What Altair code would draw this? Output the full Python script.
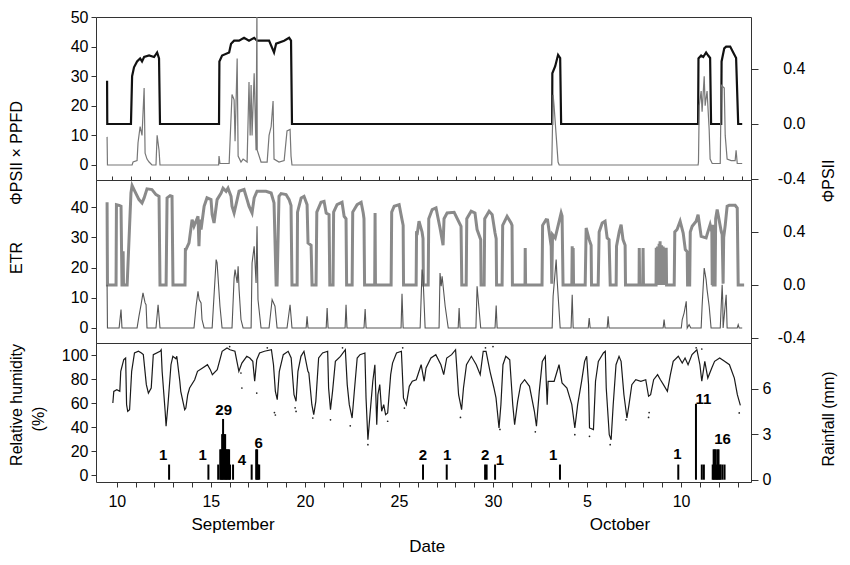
import altair as alt
import pandas as pd

FONT = "Liberation Sans"
X_DOMAIN = [9.16, 43.45]
W, H1, H2, H3 = 655, 163, 163, 139

# ---------------- data (day of September; 31 = 1 October) ----------------
# Panel 1: PhiPSII (right axis) and PhiPSII x PPFD (left axis)
phi_top = [(9.74,0.315),(9.75,0.0),(10.99,0.0),(11.05,0.348),(11.15,0.412),(11.31,0.455),(11.47,0.477),
           (11.57,0.455),(11.68,0.487),(11.94,0.498),(12.20,0.487),(12.36,0.52),(12.46,0.477),(12.51,0.0),
           (15.60,0.0),(15.62,0.455),(15.76,0.498),(16.13,0.52),(16.23,0.584),(16.39,0.606),(16.65,0.606),
           (16.91,0.627),(17.17,0.606),(17.44,0.627),(17.59,0.606),(17.80,0.606),(18.22,0.606),(18.48,0.52),
           (18.59,0.584),(19.01,0.606),(19.27,0.627),(19.37,0.606),(19.42,0.0),(33.04,0.0),(33.05,0.369),
           (33.20,0.42),(33.35,0.503),(33.46,0.48),(33.51,0.0),(40.68,0.0),(40.70,0.477),(40.84,0.498),
           (40.95,0.487),(41.10,0.52),(41.21,0.498),(41.31,0.48),(41.36,0.0),(41.89,0.0),(41.91,0.455),
           (42.05,0.55),(42.15,0.563),(42.36,0.563),(42.52,0.52),(42.67,0.48),(42.78,0.0),(42.99,0.0)]

phippfd_top = [(9.74,9.5),(9.76,0),(11.05,0),(11.10,1),(11.31,1.5),(11.36,7.5),(11.47,13),(11.57,10),(11.68,26),
               (11.73,4),(11.83,2),(11.94,1),(12.09,0),(12.30,0),(12.36,10),(12.46,5),(12.51,0),(15.58,0),
               (15.60,3),(15.65,0.5),(16.13,0.5),(16.28,23.8),(16.39,22),(16.44,8),(16.55,36),(16.60,3),
               (16.75,1),(16.86,2),(17.07,1),(17.17,28),(17.23,10),(17.28,27),(17.33,10),(17.44,31),(17.54,5),
               (17.585,55),(17.60,5),(17.80,1),(18.12,1),(18.22,10),(18.33,13),(18.43,21.6),(18.48,2),
               (18.74,1),(19.01,1.5),(19.16,11.5),(19.32,12),(19.37,3),(19.42,0),(33.02,0),(33.09,23.7),
               (33.14,20),(33.25,10),(33.35,1),(33.41,0),(40.68,0),(40.70,1),(40.74,20),(40.84,25),(40.89,18),
               (41.00,30),(41.05,20),(41.15,25),(41.26,12),(41.31,2),(41.42,0.5),(41.84,0.5),(41.89,27),
               (42.05,26),(42.10,10),(42.20,2),(42.41,1.5),(42.62,1.5),(42.67,5),(42.73,0.5),(42.99,0.5)]

# Panel 2: PhiPSII (right axis) and ETR (left axis)
phi_mid = [(9.74,0.624),(9.76,0),(10.21,0),(10.23,0.606),(10.37,0.601),(10.47,0.594),(10.52,0),(10.56,0),
           (10.58,0.254),(10.60,0),(10.79,0),(10.99,0.694),(11.05,0.75),(11.15,0.72),(11.41,0.644),(11.57,0.619),
           (11.68,0.657),(11.83,0.725),(12.09,0.72),(12.30,0.682),(12.46,0.669),(12.51,0),(12.83,0),(12.88,0.657),
           (13.04,0.674),(13.14,0.669),(13.19,0),(13.82,0),(13.84,0.267),(13.87,0.267),(14.03,0.317),(14.19,0.493),
           (14.29,0.443),(14.50,0.518),(14.55,0.292),(14.60,0.493),(14.66,0.418),(14.82,0.594),(14.97,0.657),
           (15.18,0.644),(15.24,0.531),(15.34,0.468),(15.50,0.644),(15.71,0.694),(15.81,0.73),(15.97,0.707),
           (16.07,0.73),(16.23,0.669),(16.28,0.594),(16.39,0.543),(16.65,0.707),(16.91,0.72),(17.07,0.644),
           (17.17,0.594),(17.33,0.543),(17.44,0.657),(17.59,0.707),(18.06,0.707),(18.33,0.694),(18.48,0.619),
           (18.59,0),(18.64,0),(18.74,0.669),(18.85,0.689),(19.11,0.682),(19.27,0.644),(19.37,0.60),(19.42,0),
           (19.69,0),(19.71,0.55),(19.90,0.657),(20.05,0.669),(20.21,0.606),(20.26,0.317),(20.42,0.30),(20.47,0),
           (20.68,0),(20.72,0.55),(20.94,0.624),(21.10,0.631),(21.21,0.543),(21.36,0.531),(21.40,0),(21.57,0),
           (21.60,0.55),(21.78,0.606),(22.04,0.624),(22.15,0.518),(22.25,0.50),(22.28,0),(22.57,0),(22.60,0.55),
           (22.83,0.606),(23.04,0.624),(23.15,0.543),(23.19,0.50),(23.22,0),(23.75,0),(23.77,0.543),(23.79,0),
           (24.61,0),(24.64,0.55),(24.77,0.594),(25.03,0.606),(25.18,0.493),(25.24,0.45),(25.26,0),(25.92,0),
           (25.94,0.392),(25.98,0.39),(26.07,0.481),(26.23,0.40),(26.28,0.35),(26.30,0),(26.55,0),(26.58,0.50),
           (26.76,0.569),(26.96,0.581),(27.17,0.43),(27.28,0.342),(27.33,0.30),(27.38,0.50),(27.54,0.543),
           (27.91,0.548),(28.27,0.443),(28.31,0),(28.54,0),(28.57,0.50),(28.80,0.556),(29.00,0.543),(29.11,0.418),
           (29.30,0.342),(29.32,0),(29.48,0),(29.51,0.50),(29.74,0.556),(29.90,0.531),(30.05,0.392),(30.11,0.35),
           (30.13,0),(30.42,0),(30.45,0.45),(30.68,0.518),(30.89,0.468),(30.94,0.45),(30.96,0),(31.62,0),
           (31.63,0.279),(31.65,0),(32.51,0),(32.54,0.45),(32.72,0.493),(32.80,0.49),(32.99,0.292),(33.02,0.01),
           (33.06,0.38),(33.20,0.355),(33.51,0.543),(33.56,0.52),(33.61,0),(34.07,0),(34.09,0.292),(34.10,0),
           (34.12,0),(34.14,0.279),(34.16,0),(34.77,0),(34.82,0.43),(34.98,0.342),(35.08,0.30),(35.10,0),
           (35.45,0),(35.50,0.40),(35.66,0.468),(35.81,0.481),(35.92,0.355),(36.02,0.342),(36.08,0),(36.39,0),
           (36.41,0.292),(36.55,0.40),(36.65,0.455),(36.75,0.342),(36.86,0.30),(36.88,0),(37.59,0),(37.60,0.279),
           (37.62,0),(37.78,0),(37.80,0.279),(37.82,0),(38.48,0),(38.49,0.28),(38.52,0),(38.56,0.29),(38.60,0),
           (38.64,0.31),(38.68,0),(38.69,0.33),(38.73,0),(38.77,0.30),(38.81,0),(38.85,0.29),(38.89,0),
           (38.93,0.28),(38.97,0),(39.01,0.28),(39.03,0),(39.43,0),(39.46,0.40),(39.58,0.418),(39.74,0.481),
           (39.90,0.392),(40.01,0.267),(40.11,0.25),(40.13,0),(40.24,0),(40.27,0.40),(40.37,0.443),(40.58,0.481),
           (40.68,0.531),(40.84,0.367),(41.10,0.355),(41.15,0.38),(41.31,0.455),(41.40,0.40),(41.42,0),
           (41.45,0.455),(41.47,0),(41.57,0),(41.60,0.50),(41.68,0.569),(41.89,0.405),(41.94,0.38),(41.99,0.01),
           (42.02,0.36),(42.10,0.45),(42.20,0.594),(42.31,0.601),(42.62,0.601),(42.73,0.58),(42.78,0),(43.09,0)]

etr_mid = [(9.74,14.3),(9.76,0),(10.37,0),(10.47,6.1),(10.52,0),(11.31,0),(11.41,3.9),(11.52,7.7),(11.62,11.6),
           (11.73,8.3),(11.78,7.7),(11.83,0),(12.30,0),(12.41,7.7),(12.51,0),(14.29,0),(14.40,7.2),(14.50,12.1),
           (14.56,9.4),(14.66,8.3),(14.71,2.8),(14.82,0),(15.24,0),(15.45,22.6),(15.50,21.5),(15.65,7.2),
           (15.76,0),(16.28,0),(16.39,16.5),(16.44,19.3),(16.55,14.9),(16.60,20.4),(16.65,12.7),(16.75,2.8),
           (16.86,0),(17.28,0),(17.33,21.5),(17.44,27.0),(17.54,14.9),(17.59,33.6),(17.64,9.4),(17.80,0),
           (18.22,0),(18.38,9.4),(18.53,7.2),(18.64,0),(19.16,0),(19.32,7.7),(19.42,0),(20.16,0),(20.21,3.9),
           (20.26,0),(21.21,0),(21.26,6.6),(21.31,0),(22.20,0),(22.25,7.7),(22.30,0),(23.19,0),(23.25,6.3),
           (23.30,0),(25.13,0),(25.18,11.3),(25.24,0),(26.13,0),(26.23,19.3),(26.28,17.1),(26.39,0),(27.12,0),
           (27.17,18.2),(27.23,13.8),(27.28,17.1),(27.44,7.2),(27.60,0),(28.12,0),(28.17,6.6),(28.22,0),
           (29.05,0),(29.11,13.8),(29.20,7.2),(29.30,0),(30.05,0),(30.11,7.4),(30.16,0),(33.04,0),(33.09,10.5),
           (33.25,22.6),(33.30,16.0),(33.46,0),(34.03,0),(34.09,11.0),(34.14,0),(34.93,0),(34.98,3.3),(35.03,0),
           (35.92,0),(35.97,3.9),(36.02,0),(38.85,0),(38.90,2.8),(38.95,0),(39.80,0),(39.85,2.8),(39.95,5.0),
           (40.06,8.8),(40.11,0),(40.21,1.1),(40.30,0),(40.84,0),(40.89,7.2),(41.00,19.8),(41.10,16.0),
           (41.15,12.7),(41.26,7.2),(41.36,0),(41.84,0),(41.89,7.2),(41.94,14.3),(41.97,9.4),(41.99,0),
           (42.15,11.0),(42.20,0),(42.73,0),(42.78,1.1),(42.83,0),(42.99,0)]

# Panel 3: relative humidity (%) and rainfall (mm)
rh_line = [(9.79,60),(9.84,69.7),(10.00,71.1),(10.16,69.7),(10.21,86.4),(10.37,96.1),(10.47,97.5),(10.52,58.6),
           (10.58,53.1),(10.68,54.4),(10.79,86.4),(10.94,101.7),(11.15,103.1),(11.31,101.7),(11.41,100.3),
           (11.57,75.3),(11.68,68.3),(11.83,72.5),(11.94,100.3),(12.30,103.1),(12.36,104.4),(12.41,86.4),
           (12.57,53.1),(12.62,40.6),(12.72,58.6),(12.88,91.9),(12.98,98.9),(13.14,96.9),(13.19,98.9),
           (13.35,78.1),(13.40,69.7),(13.61,54.4),(13.67,55.8),(13.77,66.9),(13.87,72.5),(14.14,79.4),
           (14.29,86.4),(14.56,89.2),(14.82,91.9),(14.97,87.8),(15.08,83.6),(15.34,87.8),(15.60,103.1),
           (15.86,105.8),(16.02,104.4),(16.28,103.1),(16.49,86.4),(16.65,93.3),(16.91,98.9),(17.07,97.5),
           (17.23,94.7),(17.33,78.1),(17.44,96.1),(17.59,101.7),(17.85,103.1),(18.22,104.4),(18.33,91.9),
           (18.43,69.7),(18.53,62.8),(18.64,86.4),(18.85,100.3),(19.11,103.1),(19.27,97.5),(19.42,66.9),
           (19.53,61.4),(19.63,86.4),(19.79,98.9),(19.95,103.1),(20.16,86.4),(20.21,85.0),(20.37,58.6),
           (20.47,50.3),(20.58,61.4),(20.73,97.5),(20.94,101.7),(21.21,103.1),(21.26,72.5),(21.36,54.4),
           (21.47,69.7),(21.62,94.7),(21.89,98.9),(22.15,104.4),(22.25,75.3),(22.36,58.6),(22.51,47.5),
           (22.62,68.3),(22.78,97.5),(22.93,100.3),(23.19,101.7),(23.25,64.2),(23.35,29.4),(23.46,50.3),
           (23.61,78.1),(23.72,91.9),(23.82,41.9),(23.88,66.9),(23.98,75.3),(24.08,53.1),(24.19,58.6),
           (24.29,50.3),(24.40,51.7),(24.56,83.6),(24.66,93.3),(24.87,101.7),(25.13,103.1),(25.24,64.2),
           (25.39,58.6),(25.55,73.9),(25.71,78.1),(25.92,79.4),(26.18,91.9),(26.34,78.1),(26.44,89.2),
           (26.70,97.5),(26.96,100.3),(27.23,91.9),(27.38,83.6),(27.54,97.5),(27.80,100.3),(28.01,104.4),
           (28.17,66.9),(28.33,54.4),(28.43,72.5),(28.59,91.9),(28.85,98.9),(29.11,91.9),(29.32,83.6),
           (29.48,103.1),(29.63,103.1),(29.84,86.4),(30.05,72.5),(30.16,64.2),(30.32,39.2),(30.42,58.6),
           (30.53,91.9),(30.68,98.9),(30.89,96.1),(31.05,58.6),(31.15,41.9),(31.31,61.4),(31.47,75.3),
           (31.68,79.4),(31.94,73.9),(32.20,53.1),(32.31,40.6),(32.46,69.7),(32.62,94.7),(32.78,98.9),
           (32.88,58.6),(32.93,78.1),(33.25,78.1),(33.51,91.9),(33.67,76.7),(33.93,72.5),(34.19,58.6),
           (34.35,39.2),(34.50,58.6),(34.71,78.1),(34.87,94.7),(34.98,98.9),(35.08,75.3),(35.13,39.2),
           (35.34,37.8),(35.45,78.1),(35.60,94.7),(35.87,101.7),(35.97,103.1),(36.02,72.5),(36.18,33.6),
           (36.28,29.4),(36.39,58.6),(36.54,91.9),(36.70,98.9),(36.81,94.7),(36.96,66.9),(37.12,47.5),
           (37.23,58.6),(37.38,75.3),(37.59,79.4),(37.86,78.1),(38.12,79.4),(38.27,65.6),(38.38,66.9),
           (38.54,79.4),(38.75,83.6),(38.90,79.4),(39.06,75.3),(39.27,69.7),(39.43,83.6),(39.58,94.7),
           (39.85,98.9),(40.06,93.3),(40.21,97.5),(40.37,91.9),(40.58,100.3),(40.84,104.4),(41.00,91.9),
           (41.10,78.1),(41.26,94.7),(41.42,80.8),(41.63,89.2),(41.78,94.7),(42.05,97.5),(42.31,94.7),
           (42.57,91.9),(42.83,80.8),(42.99,66.9),(43.15,58.0)]

rh_dots = [(16.60,85),(16.65,72.5),(17.44,68.3),(18.38,52),(18.43,50),(19.48,56),(19.53,53),(20.42,47.5),
           (21.36,46),(22.41,41),(23.35,25.3),(24.40,44.8),(25.29,55.8),(28.27,48),(30.37,38),(32.25,36),
           (34.35,33.6),(35.13,32.2),(36.23,25.3),(37.07,46),(38.27,48),(38.30,52),(43.09,51.7),(16.0,107),
           (18.0,106),(22.0,106),(25.2,106),(29.6,106),(30.0,107),(40.8,106),(41.1,105)]

rain_bars = [(12.78,1),(14.87,1),(15.39,1),(15.50,2),(15.55,2),(15.60,3),(15.65,4),(15.71,3),(15.76,3),
             (15.81,2),(15.86,2),(15.92,2),(15.97,2),(16.02,1),(16.18,1),(17.17,1),(17.41,2),(17.46,2),
             (17.51,1),(17.57,1),(26.28,1),(27.54,1),(29.58,1),(29.66,1),(30.11,1),(33.56,1),(39.85,1),
             (40.79,5),(41.10,1),(41.21,1),(41.68,1),(41.73,2),(41.78,2),(41.84,2),(41.89,1),(41.94,2),
             (41.99,2),(42.05,1),(42.10,1),(42.20,1),(42.31,1)]

rain_label_day = [12.46, 14.56, 15.68, 16.65, 17.54, 26.28, 27.56, 29.58, 30.37, 33.20, 39.80, 41.18, 42.20]
rain_label_mm = [1.64, 1.64, 4.6, 1.3, 2.43, 1.64, 1.64, 1.64, 1.3, 1.64, 1.7, 5.33, 2.7]
rain_label_txt = ["1", "1", "29", "4", "6", "2", "1", "2", "1", "1", "1", "11", "16"]

phi_tick_vals = [-0.4, 0.0, 0.4]
phi_tick_txt = ["-0.4", "0.0", "0.4"]
phi_label_day = 46.3      # right edge of the PhiPSII tick labels, on the date scale

day_ticks = list(range(10, 44))
month_day = [16.18, 36.75]
month_txt = ["September", "October"]


def frame(pairs, name):
    return pd.DataFrame({"day": [p[0] for p in pairs], name: [p[1] for p in pairs],
                         "i": list(range(len(pairs)))})


xs = alt.Scale(domain=X_DOMAIN, nice=False, zero=False)


def X(axis=None):
    return alt.X("day:Q", scale=xs, axis=axis, title=None)


def left_axis(vals):
    return alt.Axis(orient="left", values=vals, tickSize=5, labelPadding=3, title=None,
                    domain=False, grid=False)


def right_phi_axis():
    return alt.Axis(orient="right", values=phi_tick_vals, labels=False, tickSize=7,
                    title=None, domain=False, grid=False)


def right_phi_labels(scale, xaxis=None):
    d = pd.DataFrame({"day": [phi_label_day] * 3, "v": phi_tick_vals, "t": phi_tick_txt})
    return alt.Chart(d).mark_text(
        font=FONT, fontSize=16, color="#000", align="right", baseline="middle", clip=False
    ).encode(x=X(xaxis), y=alt.Y("v:Q", scale=scale, axis=None), text="t:N")


def label(text, x, y, angle=270, size=16):
    return alt.Chart(pd.DataFrame({"t": [text]})).mark_text(
        font=FONT, fontSize=size, angle=angle, color="#000", align="center", baseline="middle"
    ).encode(text="t:N", x=alt.value(x), y=alt.value(y))


# ---------------- panel 1 ----------------
s1L = alt.Scale(domain=[-5.07, 50], nice=False, zero=False)
s1R = alt.Scale(domain=[-0.407, 0.778], nice=False, zero=False)

p1_phi = alt.Chart(frame(phi_top, "phi")).mark_line(color="#111", strokeWidth=2.2, clip=True).encode(
    x=X(), y=alt.Y("phi:Q", scale=s1R, axis=right_phi_axis()), order="i:Q")
p1_gray = alt.Chart(frame(phippfd_top, "v")).mark_line(color="#777", strokeWidth=1.2, clip=True).encode(
    x=X(), y=alt.Y("v:Q", scale=s1L, axis=left_axis([0, 10, 20, 30, 40, 50])), order="i:Q")

p1 = alt.layer(
    p1_phi, p1_gray, right_phi_labels(s1R),
    label("ΦPSII × PPFD", -79, 136),
    label("ΦPSII", 733, 164),
).resolve_scale(y="independent").properties(width=W, height=H1)

# ---------------- panel 2 ----------------
s2L = alt.Scale(domain=[-4.96, 48.93], nice=False, zero=False)
s2R = alt.Scale(domain=[-0.438, 0.792], nice=False, zero=False)
top_ticks = alt.Axis(orient="top", values=day_ticks, labels=False, tickSize=4, domain=False,
                     grid=False, title=None)

p2_phi = alt.Chart(frame(phi_mid, "phi")).mark_line(color="#8a8a8a", strokeWidth=3, clip=True).encode(
    x=X(top_ticks), y=alt.Y("phi:Q", scale=s2R, axis=right_phi_axis()), order="i:Q")
p2_etr = alt.Chart(frame(etr_mid, "v")).mark_line(color="#555", strokeWidth=1.1, clip=True).encode(
    x=X(top_ticks), y=alt.Y("v:Q", scale=s2L, axis=left_axis([0, 10, 20, 30, 40])), order="i:Q")

p2 = alt.layer(
    p2_phi, p2_etr, right_phi_labels(s2R, top_ticks),
    label("ETR", -79, 78),
).resolve_scale(y="independent").properties(width=W, height=H2)

# ---------------- panel 3 ----------------
s3L = alt.Scale(domain=[-5.83, 110], nice=False, zero=False)
s3R = alt.Scale(domain=[-0.15, 9.0], nice=False, zero=False)
bottom_axis = alt.Axis(orient="bottom", values=day_ticks, tickSize=5, labelPadding=6,
                       labelExpr="datum.value % 5 == 0 ? (datum.value > 30 ? datum.value - 30 : datum.value) : ''",
                       labelOverlap=False, domain=False, grid=False, title=None)

p3_rh = alt.Chart(frame(rh_line, "rh")).mark_line(color="#1a1a1a", strokeWidth=1.2, clip=True).encode(
    x=X(bottom_axis), y=alt.Y("rh:Q", scale=s3L, axis=left_axis([0, 20, 40, 60, 80, 100])), order="i:Q")
p3_dots = alt.Chart(frame(rh_dots, "rh")).mark_circle(color="#222", size=3, opacity=1).encode(
    x=X(bottom_axis), y=alt.Y("rh:Q", scale=s3L, axis=None))
p3_rain = alt.Chart(frame(rain_bars, "mm")).mark_bar(color="#000", size=2).encode(
    x=X(bottom_axis),
    y=alt.Y("mm:Q", scale=s3R,
            axis=alt.Axis(orient="right", values=[0, 3, 6], tickSize=7, labelPadding=4, title=None,
                          domain=False, grid=False)),
    y2=alt.datum(0))
p3_rlab = alt.Chart(pd.DataFrame({"day": rain_label_day, "mm": rain_label_mm, "t": rain_label_txt})).mark_text(
    font=FONT, fontSize=15, fontWeight="bold", color="#000", baseline="middle").encode(
    x=X(bottom_axis), y=alt.Y("mm:Q", scale=s3R, axis=None), text="t:N")
p3_month = alt.Chart(pd.DataFrame({"day": month_day, "t": month_txt})).mark_text(
    font=FONT, fontSize=17, color="#000", baseline="middle").encode(
    x=X(bottom_axis), y=alt.value(182), text="t:N")
p3_date = alt.Chart(pd.DataFrame({"day": [26.5], "t": ["Date"]})).mark_text(
    font=FONT, fontSize=17, color="#000", baseline="middle").encode(
    x=X(bottom_axis), y=alt.value(204), text="t:N")

p3 = alt.layer(
    p3_rh, p3_dots, p3_rain, p3_rlab, p3_month, p3_date,
    label("Relative humidity", -79, 62),
    label("(%)", -57, 76),
    label("Rainfall (mm)", 733, 76),
).resolve_scale(y="independent").properties(width=W, height=H3)

chart = alt.vconcat(p1, p2, p3, spacing=0, bounds="flush").properties(
    padding={"left": 0, "top": 0, "right": 0, "bottom": 0}
).configure_view(stroke="#333", strokeWidth=1).configure_axis(
    labelFont=FONT, labelFontSize=16, labelColor="#000", tickColor="#333", tickWidth=1
).configure_text(font=FONT)

chart.save("out.html", embed_options={"renderer": "svg", "actions": False})
